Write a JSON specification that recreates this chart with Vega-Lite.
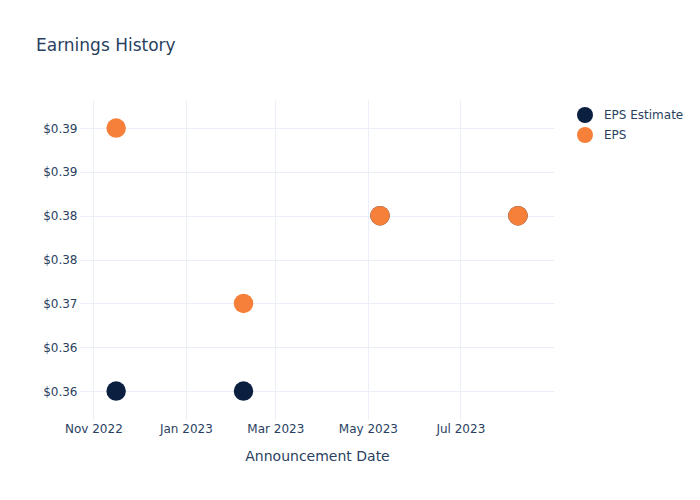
{
  "$schema": "https://vega.github.io/schema/vega-lite/v6.json",
  "autosize": "none",
  "width": 474,
  "height": 320,
  "padding": {"left": 80, "top": 100, "right": 146, "bottom": 80},
  "background": "white",
  "title": {
    "text": "Earnings History",
    "anchor": "start",
    "frame": "group",
    "dx": -44,
    "offset": 32,
    "baseline": "alphabetic",
    "font": "DejaVu Sans",
    "fontSize": 17,
    "fontWeight": "normal",
    "color": "#2a3f5f"
  },
  "config": {
    "view": {"stroke": null},
    "font": "DejaVu Sans",
    "axis": {
      "domain": false,
      "ticks": false,
      "gridColor": "#ebf0f8",
      "gridWidth": 1,
      "labelColor": "#2a3f5f",
      "labelFont": "DejaVu Sans",
      "labelFontSize": 12,
      "titleColor": "#2a3f5f",
      "titleFont": "DejaVu Sans",
      "titleFontWeight": "normal",
      "titleFontSize": 14
    }
  },
  "data": {
    "values": [
      {"date": "2022-11-16", "series": "EPS Estimate", "value": 0.36},
      {"date": "2023-02-08", "series": "EPS Estimate", "value": 0.36},
      {"date": "2023-05-09", "series": "EPS Estimate", "value": 0.38},
      {"date": "2023-08-08", "series": "EPS Estimate", "value": 0.38},
      {"date": "2022-11-16", "series": "EPS", "value": 0.39},
      {"date": "2023-02-08", "series": "EPS", "value": 0.37},
      {"date": "2023-05-09", "series": "EPS", "value": 0.38},
      {"date": "2023-08-08", "series": "EPS", "value": 0.38}
    ]
  },
  "mark": {"type": "point", "filled": true, "shape": "circle", "size": 380, "opacity": 1},
  "encoding": {
    "x": {
      "field": "date",
      "type": "temporal",
      "title": "Announcement Date",
      "scale": {"type": "utc", "domain": ["2022-10-23T04:00:00Z", "2023-08-31T18:00:00Z"], "nice": false},
      "axis": {
        "labelExpr": "utcFormat(datum.value, '%b %Y')",
        "tickCount": {"interval": "month", "step": 2},
        "labelPadding": 3,
        "titlePadding": 15,
        "labelFlush": false
      }
    },
    "y": {
      "field": "value",
      "type": "quantitative",
      "title": null,
      "scale": {"domain": [0.3567, 0.3932], "nice": false, "zero": false},
      "axis": {
        "values": [0.36, 0.365, 0.37, 0.375, 0.38, 0.385, 0.39],
        "labelExpr": "'$' + format(datum.value, '.2f')",
        "labelPadding": 3
      }
    },
    "color": {
      "field": "series",
      "type": "nominal",
      "scale": {"domain": ["EPS Estimate", "EPS"], "range": ["#0b1f41", "#f6803a"]},
      "legend": {
        "title": null,
        "orient": "none",
        "legendX": 496,
        "legendY": 6,
        "padding": 0,
        "symbolType": "circle",
        "symbolSize": 256,
        "symbolOpacity": 1,
        "labelOffset": 10,
        "rowPadding": 3,
        "labelFontSize": 12,
        "labelColor": "#2a3f5f",
        "labelFont": "DejaVu Sans"
      }
    }
  }
}
